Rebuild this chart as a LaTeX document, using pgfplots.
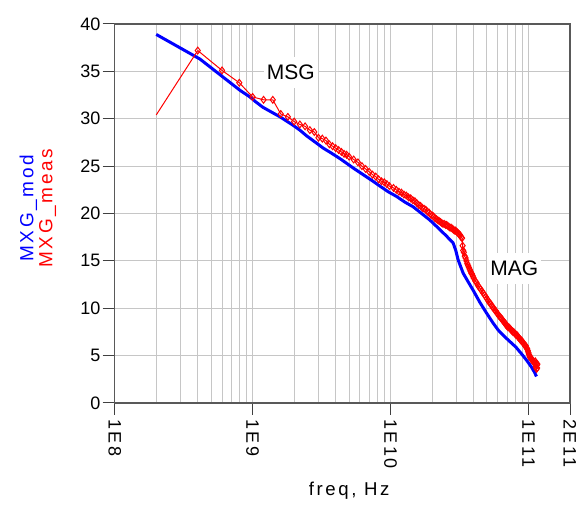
\documentclass[border=0pt]{standalone}
\usepackage{fontspec}
\setmainfont{Liberation Sans}
\newfontfamily\spaced[LetterSpace=14]{Liberation Sans}
\usepackage{pgfplots}
\pgfplotsset{compat=1.18}
\begin{document}
\begin{tikzpicture}
% page = 588x507 px at 0.5pt per px
\path[use as bounding box] (-57.35pt,-52pt) rectangle (236.65pt,201.5pt);
\begin{axis}[
    at={(0,0)}, anchor=south west,
    scale only axis, width=227.65pt, height=189.5pt,
    xmode=log, xmin=1e8, xmax=2e11,
    ymin=0, ymax=40,
    xtick={1e8,1e9,1e10,1e11,2e11},
    xticklabels={1E8,1E9,1E10,1E11,2E11},
    minor xtick={2e8,3e8,4e8,5e8,6e8,7e8,8e8,9e8,
                 2e9,3e9,4e9,5e9,6e9,7e9,8e9,9e9,
                 2e10,3e10,4e10,5e10,6e10,7e10,8e10,9e10},
    ytick={0,5,...,40},
    tick pos=left, tick align=outside,
    major tick length=6pt, minor tick length=0pt,
    tick style={black!75, line width=0.5pt},
    xmajorgrids, xminorgrids, ymajorgrids,
    major grid style={gray!45, line width=0.5pt},
    minor grid style={gray!45, line width=0.5pt},
    axis line style={black!65, line width=0.6pt},
    /pgf/number format/assume math mode=true,
    yticklabel style={font=\fontsize{9}{9}\selectfont, inner sep=1pt},
    x tick label style={font=\spaced\fontsize{9}{9}\selectfont, rotate=-90, anchor=west, inner sep=2pt},
    xlabel={freq, Hz},
    xlabel style={font=\spaced\fontsize{9.3}{9.3}\selectfont, at={(axis description cs:0.515,-0.232)}, anchor=center},
    ylabel={\textcolor{blue}{MXG\_mod}\\\textcolor{red}{MXG\_meas}},
    ylabel style={font=\spaced\fontsize{9.5}{9.5}\selectfont, align=center, at={(axis description cs:-0.169,0.514)}, anchor=center, rotate=0},
]
% model
\addplot[blue, line width=1.5pt] coordinates {
  (2.0e8,38.9) (4.15e8,36.3) (8.1e8,33.0) (9.56e8,32.3) (1.05e9,31.8)
  (1.19e9,31.2) (1.58e9,30.2) (1.97e9,29.3) (2.2e9,28.8) (2.46e9,28.2)
  (2.8e9,27.6) (3.25e9,26.9) (3.7e9,26.4) (4.29e9,25.8) (4.8e9,25.3)
  (5.36e9,24.8) (6.33e9,24.1) (7.3e9,23.5) (8.36e9,22.9) (9.6e9,22.3)
  (1.105e10,21.8) (1.27e10,21.2) (1.46e10,20.7) (1.68e10,20.0)
  (1.93e10,19.3) (2.28e10,18.3) (2.55e10,17.6) (2.84e10,16.9)
  (2.97e10,16.1) (3.09e10,15.1) (3.36e10,13.7) (3.65e10,12.8)
  (3.97e10,11.9) (4.45e10,10.6) (4.96e10,9.5) (5.5e10,8.5) (6.03e10,7.7)
  (6.6e10,7.1) (7.31e10,6.5) (8.1e10,5.9) (8.89e10,5.2) (9.7e10,4.5)
  (1.05e11,3.8) (1.1e11,3.3) (1.143e11,2.8)
};
% measured, first segment without marker
\addplot[red, line width=0.5pt] coordinates {(2.0e8,30.4) (4.0e8,37.2)};
\addplot[red, line width=0.5pt, mark=diamond, mark size=1.7pt, mark options={solid, line width=0.5pt}] coordinates {
  (0.4e9,37.2) (0.6e9,35.1) (0.8e9,33.8) (1.0e9,32.3) (1.2e9,32.0)
  (1.4e9,32.0) (1.6e9,30.5) (1.8e9,30.2) (2.0e9,29.7) (2.2e9,29.4)
  (2.4e9,29.2) (2.6e9,28.8) (2.8e9,28.6) (3.0e9,28.0) (3.2e9,27.9)
  (3.4e9,27.7) (3.6e9,27.3) (3.8e9,27.1) (4.0e9,26.9) (4.2e9,26.7)
  (4.4e9,26.5) (4.6e9,26.3) (4.8e9,26.2) (5.0e9,26.0) (5.4e9,25.7)
  (5.8e9,25.4) (6.2e9,25.0) (6.6e9,24.7) (7.0e9,24.4) (7.4e9,24.1)
  (7.8e9,23.9) (8.2e9,23.6) (8.6e9,23.4) (9.0e9,23.3) (9.4e9,23.1)
  (9.8e9,22.9) (10.5e9,22.7) (11.0e9,22.5) (11.5e9,22.3) (12.0e9,22.2)
  (12.5e9,22.0) (13.0e9,21.9) (13.5e9,21.7) (14.0e9,21.6) (14.5e9,21.4)
  (15.0e9,21.3) (15.5e9,21.1) (16.0e9,20.9) (16.5e9,20.8) (17.0e9,20.6)
  (17.5e9,20.5) (18.0e9,20.4) (18.5e9,20.2) (19.0e9,20.1) (19.5e9,19.9)
  (20.0e9,19.8) (20.5e9,19.7) (21.0e9,19.5) (21.5e9,19.4) (22.0e9,19.3)
  (22.5e9,19.2) (23.0e9,19.1) (23.5e9,19.0) (24.0e9,18.9) (24.5e9,18.9)
  (25.0e9,18.8) (25.5e9,18.8) (26.0e9,18.7) (26.5e9,18.6) (27.0e9,18.5)
  (27.5e9,18.5) (28.0e9,18.4) (28.5e9,18.3) (29.0e9,18.2) (29.5e9,18.2)
  (30.0e9,18.1) (30.5e9,18.0) (31.0e9,17.9) (31.5e9,17.8) (32.0e9,17.7)
  (32.5e9,17.5) (33.0e9,17.4) (33.3e9,16.6) (33.6e9,16.1) (34.0e9,15.9)
  (34.5e9,15.5) (35.0e9,15.3) (35.5e9,15.0) (36.0e9,14.7) (36.5e9,14.5)
  (37.0e9,14.3) (37.5e9,14.1) (38.0e9,13.9) (38.5e9,13.7) (39.0e9,13.6)
  (39.5e9,13.4) (40.0e9,13.2) (41.0e9,12.9) (42.0e9,12.7) (43.0e9,12.4)
  (44.0e9,12.2) (45.0e9,12.0) (46.0e9,11.8) (47.0e9,11.6) (48.0e9,11.4)
  (49.0e9,11.2) (50.0e9,11.0) (51.0e9,10.8) (52.0e9,10.6) (53.0e9,10.5)
  (54.0e9,10.3) (55.0e9,10.1) (56.0e9,10.0) (57.0e9,9.8) (58.0e9,9.7)
  (59.0e9,9.5) (60.0e9,9.4) (61.0e9,9.2) (62.0e9,9.1) (63.0e9,9.0)
  (64.0e9,8.9) (65.0e9,8.7) (66.0e9,8.6) (67.0e9,8.5) (68.0e9,8.4)
  (69.0e9,8.2) (70.0e9,8.1) (71.0e9,8.0) (72.0e9,8.0) (73.0e9,7.9)
  (74.0e9,7.8) (75.0e9,7.7) (76.0e9,7.6) (77.0e9,7.5) (78.0e9,7.5)
  (79.0e9,7.4) (80.0e9,7.3) (81.0e9,7.2) (82.0e9,7.2) (83.0e9,7.1)
  (84.0e9,7.0) (85.0e9,6.9) (86.0e9,6.8) (87.0e9,6.7) (88.0e9,6.6)
  (89.0e9,6.6) (90.0e9,6.5) (91.0e9,6.4) (92.0e9,6.3) (93.0e9,6.2)
  (94.0e9,6.1) (95.0e9,6.0) (96.0e9,6.0) (97.0e9,5.8) (98.0e9,5.7)
  (99.0e9,5.5) (100e9,5.3) (101e9,5.1) (102e9,4.9) (103e9,4.8)
  (104e9,4.7) (105e9,4.7) (106e9,4.6) (107e9,4.5) (108e9,4.4)
  (109e9,4.3) (110e9,4.3) (111e9,4.2) (112e9,4.4) (113e9,3.8)
  (114e9,4.2) (114.5e9,3.6) (115e9,4.0) (115.5e9,3.7) (116e9,4.1)
};
\node[fill=white, font=\fontsize{10.5}{10.5}\selectfont, inner xsep=1.5pt, inner ysep=4pt] at (axis cs:1.89e9,34.9) {MSG};
\node[fill=white, font=\fontsize{10.5}{10.5}\selectfont, inner xsep=1.5pt, inner ysep=4pt] at (axis cs:7.9e10,14.2) {MAG};
\end{axis}
\end{tikzpicture}
\end{document}
